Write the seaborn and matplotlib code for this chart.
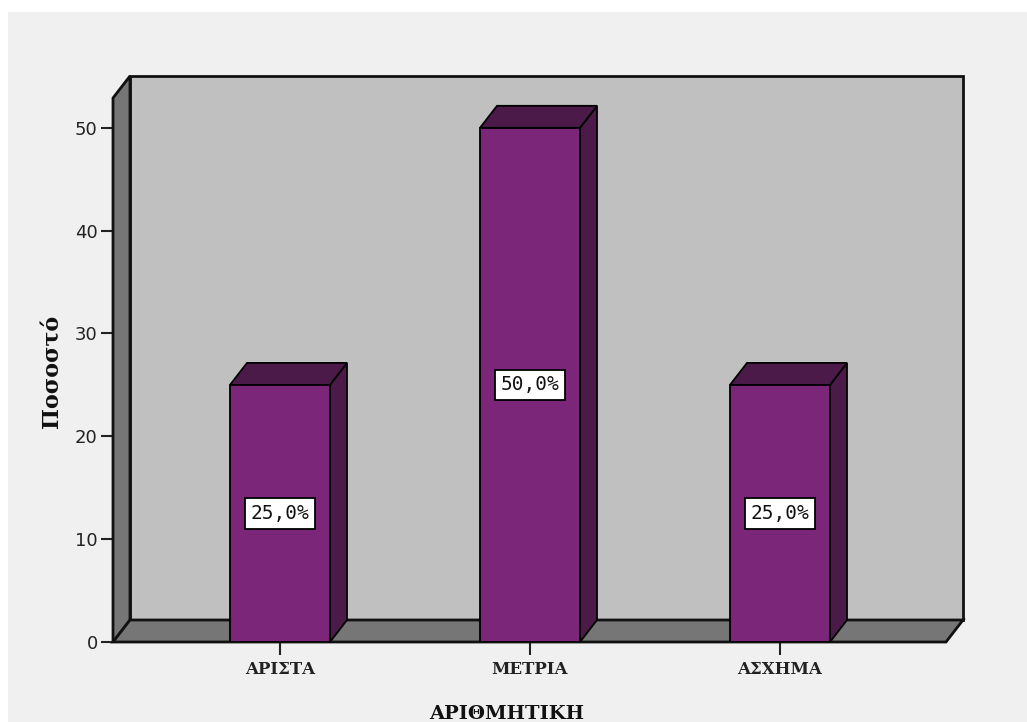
import matplotlib
matplotlib.use("Agg")
import matplotlib.pyplot as plt
import seaborn as sns
import pandas as pd
from matplotlib.patches import Polygon, Rectangle

# Percentages per grade
categories = ["ΑΡΙΣΤΑ", "ΜΕΤΡΙΑ", "ΑΣΧΗΜΑ"]
percent = [25.0, 50.0, 25.0]
y_ticks = [0, 10, 20, 30, 40, 50]
x_title = "ΑΡΙΘΜΗΤΙΚΗ"
y_title = "Ποσοστό"

W, H, DPI = 1027, 722, 100
FRONT = "#7b2679"
SHADE = "#4b1a48"
WALL = "#c0c0c0"
FLOOR = "#767676"
PANEL = "#f0f0f0"
DEPTH_X, DEPTH_Y = 17, 22  # pixel offset of the back plane

sns.set_theme(style="white")
plt.rcParams["font.family"] = ["DejaVu Sans"]

fig = plt.figure(figsize=(W / DPI, H / DPI), dpi=DPI)
fig.patch.set_facecolor("white")
fig.add_artist(Rectangle((8 / W, 0), 1, 1 - 12 / H, transform=fig.transFigure,
                         facecolor=PANEL, edgecolor="none", zorder=-10))

ax_w, ax_h = 833, 544
ax = fig.add_axes([113 / W, 80 / H, ax_w / W, ax_h / H])
ax.set_facecolor("none")

df = pd.DataFrame({"grade": categories, "pct": percent})
sns.barplot(data=df, x="grade", y="pct", order=categories, width=0.4,
            color=FRONT, saturation=1, edgecolor="black", linewidth=1.3,
            ax=ax, zorder=5)
ax.set_xlim(-0.668, 2.664)
ax.set_ylim(0, 52.9)

# 3D box: back wall, left wall and floor (axes fraction coordinates)
ox, oy = DEPTH_X / ax_w, DEPTH_Y / ax_h
box_kw = dict(transform=ax.transAxes, clip_on=False, edgecolor="#111111",
              linewidth=2.0, joinstyle="miter")
ax.add_patch(Polygon([(ox, oy), (1 + ox, oy), (1 + ox, 1 + oy), (ox, 1 + oy)],
                     facecolor=WALL, zorder=1, **box_kw))
ax.add_patch(Polygon([(0, 0), (0, 1), (ox, 1 + oy), (ox, oy)],
                     facecolor=FLOOR, zorder=2, **box_kw))
ax.add_patch(Polygon([(0, 0), (1, 0), (1 + ox, oy), (ox, oy)],
                     facecolor=FLOOR, zorder=2, **box_kw))

# depth offset expressed in data units
inv = ax.transData.inverted()
p0 = ax.transData.transform((0, 0))
dx, dy = inv.transform(p0 + [DEPTH_X, DEPTH_Y]) - inv.transform(p0)

for bar in ax.patches[:]:
    if not isinstance(bar, Rectangle):
        continue
    x0 = bar.get_x()
    x1 = x0 + bar.get_width()
    h = bar.get_height()
    side = Polygon([(x1, 0), (x1 + dx, dy), (x1 + dx, h + dy), (x1, h)],
                   facecolor=SHADE, edgecolor="black", linewidth=1.3,
                   clip_on=False, zorder=4)
    top = Polygon([(x0, h), (x1, h), (x1 + dx, h + dy), (x0 + dx, h + dy)],
                  facecolor=SHADE, edgecolor="black", linewidth=1.3,
                  clip_on=False, zorder=4)
    ax.add_patch(side)
    ax.add_patch(top)
    label = f"{h:.1f}".replace(".", ",") + "%"
    ax.text(x0 + bar.get_width() / 2, h / 2, label, ha="center", va="center",
            fontsize=14, family="DejaVu Sans Mono", color="#111111", zorder=8,
            bbox=dict(boxstyle="square,pad=0.3", facecolor="white",
                      edgecolor="black", linewidth=1.3))

for s in ax.spines.values():
    s.set_visible(False)
ax.set_yticks(y_ticks)
ax.set_yticklabels([str(t) for t in y_ticks], fontsize=13, color="#222222")
ax.set_xticks(range(len(categories)))
ax.set_xticklabels(categories, fontsize=12, family="DejaVu Serif",
                   fontweight="bold", color="#222222")
ax.tick_params(axis="both", length=9, width=1.5, color="#222222",
               direction="out", left=True, bottom=True)
ax.tick_params(axis="y", pad=2)
ax.tick_params(axis="x", pad=5)
ax.set_xlabel("")
ax.set_ylabel("")

fig.text(52 / W, 1 - 371 / H, y_title, rotation=90, ha="center", va="center",
         fontsize=16, fontweight="bold", family="DejaVu Serif", color="#111111")
fig.text(507 / W, 1 - 719 / H, x_title, ha="center", va="baseline",
         fontsize=14, fontweight="bold", family="DejaVu Serif", color="#111111")

fig.savefig("out.png", dpi=DPI, facecolor=fig.get_facecolor())
